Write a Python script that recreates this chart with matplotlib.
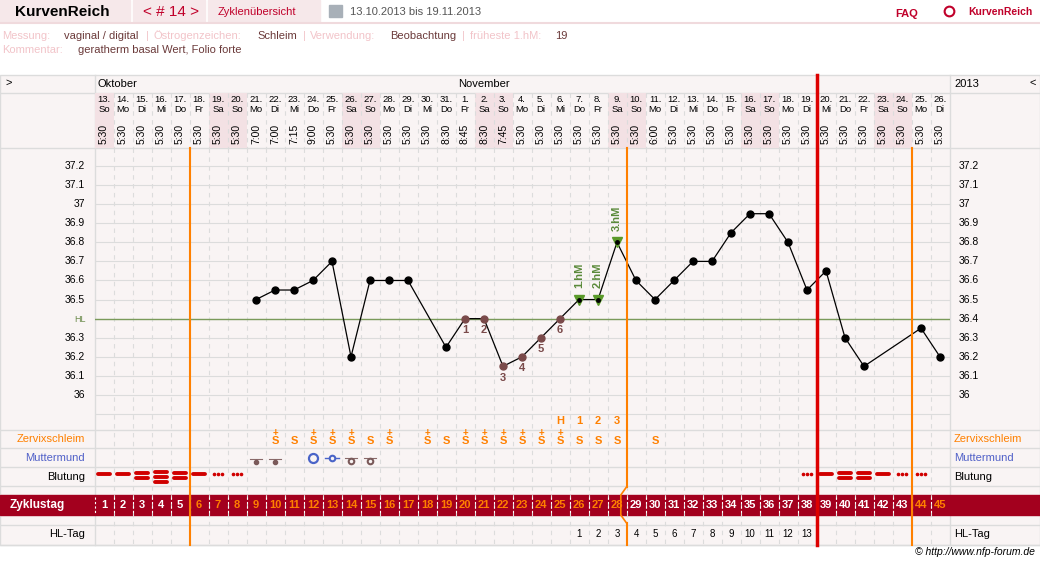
import matplotlib
matplotlib.use("Agg")
import matplotlib.pyplot as plt
import matplotlib.transforms as mtrans
from matplotlib.patches import Rectangle
import numpy as np

plt.rcParams['font.family'] = ['Liberation Sans', 'DejaVu Sans']

# ---------------- data ----------------
dates = [f"{d}." for d in range(13, 32)] + [f"{d}." for d in range(1, 27)]
weekdays_cycle = ["So", "Mo", "Di", "Mi", "Do", "Fr", "Sa"]
weekdays = [weekdays_cycle[i % 7] for i in range(45)]
times = ["5:30"] * 8 + ["7:00", "7:00", "7:15", "9:00", "5:30", "5:30", "5:30", "5:30", "5:30",
         "5:30", "8:30", "8:45", "8:30", "7:45"] + ["5:30"] * 6 + ["5:30", "6:00"] + ["5:30"] * 16
nan = np.nan
temps = [nan] * 8 + [36.5, 36.55, 36.55, 36.6, 36.7, 36.2, 36.6, 36.6, 36.6, nan, 36.25,
         36.4, 36.4, 36.15, 36.2, 36.3, 36.4, 36.5, 36.5, 36.8, 36.6, 36.5, 36.6, 36.7, 36.7,
         36.85, 36.95, 36.95, 36.8, 36.55, 36.65, 36.3, 36.15, nan, nan, 36.35, 36.2]
low_days = [20, 21, 22, 23, 24, 25]
low_labels = ["1", "2", "3", "4", "5", "6"]
hm_days = [26, 27, 28]
hm_labels = ["1.hM", "2.hM", "3.hM"]
peak_days = [25, 26, 27, 28]
peak_labels = ["H", "1", "2", "3"]
schleim = {10: "S+", 11: "S", 12: "S+", 13: "S+", 14: "S+", 15: "S", 16: "S+", 18: "S+", 19: "S",
           20: "S+", 21: "S+", 22: "S+", 23: "S+", 24: "S+", 25: "S+", 26: "S", 27: "S", 28: "S", 30: "S"}
mumu = {9: "dotbar", 10: "dotbar", 12: "bigO", 13: "smallo", 14: "obar", 15: "obar"}
blutung = {1: 1, 2: 1, 3: 2, 4: 3, 5: 2, 6: 1, 7: 0, 8: 0, 38: 0, 39: 1, 40: 2, 41: 2, 42: 1, 43: 0, 44: 0}
hl_days = list(range(26, 39))
hl_labels = [str(i) for i in range(1, 14)]
hl_temp = 36.4
yticks = [37.2, 37.1, 37.0, 36.9, 36.8, 36.7, 36.6, 36.5, 36.4, 36.3, 36.2, 36.1, 36.0]
weekend = [1, 7, 8, 14, 15, 21, 22, 28, 29, 35, 36, 42, 43]
orange_lines = [5.5, 43.5]
postovu_line = 28.5
red_line = 38.5

# ---------------- figure ----------------
W, H = 1040, 564
fig = plt.figure(figsize=(W / 100, H / 100), dpi=100)
bg = fig.add_axes([0, 0, 1, 1])
bg.set_xlim(0, W); bg.set_ylim(H, 0); bg.axis('off')

X0, X1 = 94.5, 949.5
Y0, Y1 = 148, 430
def t_at(y):
    return 37.2 - (y - 166) / 190.8
ax = fig.add_axes([X0 / W, 1 - Y1 / H, (X1 - X0) / W, (Y1 - Y0) / H])
ax.set_xlim(0.5, 45.5); ax.set_ylim(t_at(Y1), t_at(Y0)); ax.axis('off')
ax.patch.set_alpha(0)
tr = mtrans.blended_transform_factory(ax.transData, bg.transData)

panel = "#f9f4f4"; line_c = "#dcdcdc"; red = "#c0002a"; orange = "#ff8000"
pink_lbl = "#f2c4c9"; darkt = "#6b3a3a"

# header
bg.add_patch(Rectangle((0, 0), 130, 22, color="#f6e8ea", zorder=0))
bg.add_patch(Rectangle((133, 0), 72, 22, color="#f6e8ea", zorder=0))
bg.add_patch(Rectangle((208, 0), 112, 22, color="#f6e8ea", zorder=0))
bg.plot([0, W], [23, 23], color="#f0dadd", lw=1.5)
bg.text(15, 12, "KurvenReich", fontsize=11, weight='bold', va='center')
bg.text(143, 12, "< # 14 >", fontsize=11, color=red, va='center')
bg.text(218, 12, "Zyklenübersicht", fontsize=8, color=red, va='center')
bg.add_patch(Rectangle((329, 5), 13, 12, color="#a8b0b8", zorder=2))
bg.text(350, 12, "13.10.2013 bis 19.11.2013", fontsize=8, color="#555555", va='center')
bg.text(895, 14, "FAQ", fontsize=8, color=red, weight='bold', va='center')
bg.text(968, 12, "KurvenReich", fontsize=7.5, color=red, weight='bold', va='center')
bg.plot(949, 11, marker='o', ms=7, mfc='white', mec=red, mew=1.5)

info = [(2, "Messung:", pink_lbl), (64, "vaginal / digital", darkt), (146, "|", pink_lbl),
        (153, "Östrogenzeichen:", pink_lbl), (257, "Schleim", darkt), (303, "|", pink_lbl),
        (310, "Verwendung:", pink_lbl), (390, "Beobachtung", darkt), (462, "|", pink_lbl),
        (470, "früheste 1.hM:", pink_lbl), (555, "19", darkt)]
for x, s, c in info:
    bg.text(x, 36, s, fontsize=8, color=c, va='center')
bg.text(2, 50, "Kommentar:", fontsize=8, color=pink_lbl, va='center')
bg.text(78, 50, "geratherm basal Wert, Folio forte", fontsize=8, color=darkt, va='center')

# panel
bg.add_patch(Rectangle((0, 75), W, 470, facecolor=panel, edgecolor=line_c, lw=1, zorder=0))
for y in [93, 148, 430, 448, 467, 486, 525, 545]:
    bg.plot([0, W], [y, y], color=line_c, lw=1, zorder=1)
for x in [X0, X1]:
    bg.plot([x, x], [75, 545], color=line_c, lw=1, zorder=1)
bg.text(6, 83, ">", fontsize=8, va='center')
bg.text(1030, 83, "<", fontsize=8, va='center')
bg.text(954, 84, "2013", fontsize=8, va='center')
bg.text(97, 84, "Oktober", fontsize=8, va='center')
bg.text(458, 84, "November", fontsize=8, va='center')

# weekend shading in header
for d in weekend:
    ax.add_patch(Rectangle((d - 0.5, 93), 1, 55, transform=tr, color="#f3e1e4", zorder=0, lw=0, clip_on=False))

days = np.arange(1, 46)
for i, d in enumerate(days):
    ax.text(d, 100, dates[i], transform=tr, fontsize=6.8, ha='center', va='center')
    ax.text(d, 110, weekdays[i], transform=tr, fontsize=6.8, ha='center', va='center')
    ax.text(d, 134, times[i], transform=tr, fontsize=7.5, ha='center', va='center', rotation=90)

# vertical dashed grid
for e in np.arange(1.5, 45.5, 1):
    ax.plot([e, e], [93, 148], transform=tr, color=line_c, lw=0.8, ls=(0, (4, 4)), zorder=1, clip_on=False)
    ax.plot([e, e], [148, 545], transform=tr, color=line_c, lw=0.8, ls=(0, (4, 4)), zorder=1, clip_on=False)
# horizontal grid
for t in np.arange(35.9, 37.35, 0.1):
    ax.axhline(t, color=line_c, lw=0.8, zorder=1)
ax.axhline(hl_temp, color="#7a9a5a", lw=1, zorder=2)
bg.text(86, 320, "HL", fontsize=6.5, color="#6a8a4a", ha='right', va='center')

for t in yticks:
    lab = f"{t:.1f}".replace("37.0", "37").replace("36.0", "36")
    if t != hl_temp:
        ax.text(0.0, t, lab, fontsize=7.5, ha='right', va='center')
    ax.text(46.0, t, lab, fontsize=7.5, ha='left', va='center')

# temperature curve
tarr = np.array(temps)
m = ~np.isnan(tarr)
ax.plot(days[m], tarr[m], color='black', lw=0.9, zorder=4)
normal = [d for d in days[m] if d not in low_days and d not in hm_days]
ax.plot(normal, [temps[d - 1] for d in normal], 'o', color='black', ms=5, zorder=5)
ax.plot(low_days, [temps[d - 1] for d in low_days], 'o', color="#7a4a4a", ms=5, zorder=5)
for d, s in zip(low_days, low_labels):
    ax.text(d, temps[d - 1] - 0.06, s, fontsize=8, color="#7a4a4a", weight='bold', ha='center', va='center')
ax.plot(hm_days, [temps[d - 1] for d in hm_days], 'v', color="#5a9a2a", ms=7, zorder=5)
ax.plot(hm_days, [temps[d - 1] for d in hm_days], 'o', color="black", ms=2.5, zorder=6)
for d, s in zip(hm_days, hm_labels):
    ax.text(d, temps[d - 1] + 0.06, s, fontsize=8, color="#5a8a3a", weight='bold', ha='center',
            va='bottom', rotation=90)

kw = dict(transform=tr, clip_on=False, zorder=6)
# vertical markers
for e in orange_lines:
    ax.plot([e, e], [148, 545], color=orange, lw=1.5, **kw)
ax.plot([postovu_line, postovu_line], [148, 487], color=orange, lw=1.5, **kw)
ax.plot([postovu_line, postovu_line], [523, 545], color=orange, lw=1.5, **kw)
ax.plot([red_line, red_line], [75, 545], color="#dd0000", lw=2.5, **kw)

# peak row
for d, s in zip(peak_days, peak_labels):
    ax.text(d, 421, s, transform=tr, fontsize=8, color=orange, weight='bold', ha='center', va='center')

# row labels
for x, ha in [(85, 'right'), (954, 'left')]:
    bg.text(x, 439, "Zervixschleim", fontsize=8, color=orange, ha=ha, va='center')
    bg.text(x, 458, "Muttermund", fontsize=8, color="#5060c8", ha=ha, va='center')
    bg.text(x, 477, "Blutung", fontsize=8, color="black", ha=ha, va='center')
    bg.text(x, 534, "HL-Tag", fontsize=8, color="black", ha=ha, va='center')

for d, s in schleim.items():
    ax.text(d, 441, "S", transform=tr, fontsize=8, color=orange, weight='bold', ha='center', va='center')
    if "+" in s:
        ax.text(d, 433, "+", transform=tr, fontsize=7, color=orange, weight='bold', ha='center', va='center')

for d, k in mumu.items():
    if k == "dotbar":
        ax.plot([d - 0.3, d + 0.3], [459, 459], color="#8a6a6a", lw=0.8, **kw)
        ax.plot(d, 462, 'o', color="#7a5a5a", ms=3, **kw)
    elif k == "bigO":
        ax.plot(d, 458, 'o', mfc='none', mec="#4a64c8", ms=6.5, mew=1.6, **kw)
    elif k == "smallo":
        ax.plot([d - 0.35, d + 0.35], [458, 458], color="#4a64c8", lw=1, **kw)
        ax.plot(d, 458, 'o', mfc=panel, mec="#4a64c8", ms=4, mew=1.5, **kw)
    else:
        ax.plot([d - 0.3, d + 0.3], [458, 458], color="#8a6a6a", lw=0.8, **kw)
        ax.plot(d, 461, 'o', mfc=panel, mec="#7a5a5a", ms=4, mew=1.5, **kw)

for d, n in blutung.items():
    if n == 0:
        ax.plot([d - 0.2, d, d + 0.2], [474, 474, 474], 'o', color="#d00000", ms=1.6, **kw)
    else:
        ys = {1: [474], 2: [473, 478], 3: [472, 477, 482]}[n]
        for y in ys:
            ax.plot([d - 0.3, d + 0.3], [y, y], color="#d00000", lw=2.8, solid_capstyle='round', **kw)

# Zyklustag band
bg.add_patch(Rectangle((0, 495), W, 20, color="#a3001e", zorder=3))
bg.text(10, 505, "Zyklustag", fontsize=8.5, color='white', weight='bold', va='center', zorder=4)
for d in days:
    col = orange if (6 <= d <= 28 or d >= 44) else 'white'
    ax.text(d, 505, str(d), transform=tr, fontsize=8, color=col, weight='bold', ha='center', va='center', zorder=7)
    ax.plot([d - 0.5, d - 0.5], [497, 513], transform=tr, color='white', lw=0.8, ls=(0, (2, 2)),
            zorder=5, clip_on=False)
ax.plot([postovu_line, postovu_line - 0.3, postovu_line - 0.3, postovu_line], [487, 495, 515, 523],
        color=orange, lw=1.2, **kw)

for d, s in zip(hl_days, hl_labels):
    ax.text(d, 534, s, transform=tr, fontsize=7, ha='center', va='center')

bg.text(1035, 552, "© http://www.nfp-forum.de", fontsize=7.5, style='italic', ha='right', va='center')

fig.savefig("out.png", dpi=100, facecolor='white')
